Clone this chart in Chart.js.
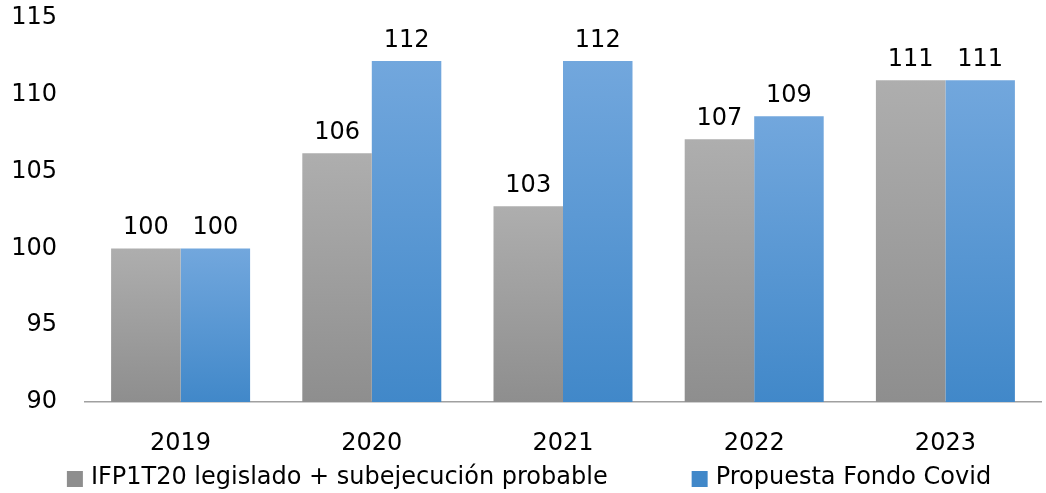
<!DOCTYPE html>
<html>
<head>
<meta charset="utf-8">
<script src="https://cdn.jsdelivr.net/npm/chart.js@4"></script>
<style>
  html, body { margin: 0; padding: 0; background: #fff; }
  #wrap { width: 1046px; height: 493px; }
</style>
</head>
<body>
<div id="wrap"><canvas id="chart"></canvas></div>
<script>
const years       = ['2019', '2020', '2021', '2022', '2023'];
const ifpValues   = [100, 106.2, 102.75, 107.1, 110.95];
const fondoValues = [100, 112.2, 112.2, 108.6, 110.95];
const yTicks      = [90, 95, 100, 105, 110, 115];
const seriesColors = [['#aeaeae', '#8e8e8e'], ['#72a7dd', '#4188c9']];

const FONT = "'DejaVu Sans', sans-serif";

// each bar fades from its own top down to the axis
function barFill(c) {
  const chart = c.chart, area = chart.chartArea;
  const cols = seriesColors[c.datasetIndex];
  if (!area || c.raw === undefined) return cols[0];
  const top = chart.scales.y.getPixelForValue(c.raw);
  const g = chart.ctx.createLinearGradient(0, top, 0, area.bottom);
  g.addColorStop(0, cols[0]);
  g.addColorStop(1, cols[1]);
  return g;
}

const valueLabels = {
  id: 'valueLabels',
  afterDatasetsDraw(chart) {
    const ctx = chart.ctx;
    ctx.save();
    ctx.font = `24px ${FONT}`;
    ctx.fillStyle = '#000';
    ctx.textAlign = 'center';
    ctx.textBaseline = 'alphabetic';
    chart.data.datasets.forEach((ds, i) => {
      chart.getDatasetMeta(i).data.forEach((bar, j) => {
        ctx.fillText(Math.round(ds.data[j]), bar.x, bar.y - 14);
      });
    });
    ctx.restore();
  }
};

// legend drawn by hand so the gap between the two entries can be wide
const bottomLegend = {
  id: 'bottomLegend',
  afterDraw(chart) {
    const ctx = chart.ctx;
    const gap = 84, boxW = 16, boxH = 16, textGap = 8;
    ctx.save();
    ctx.font = `24px ${FONT}`;
    ctx.textBaseline = 'middle';
    ctx.textAlign = 'left';
    const items = chart.data.datasets.map((ds, i) => ({
      text: ds.label,
      color: seriesColors[i][1],
      w: boxW + textGap + ctx.measureText(ds.label).width
    }));
    const total = items.reduce((s, it) => s + it.w, 0) + gap * (items.length - 1);
    let x = (chart.width - total) / 2 + 6;
    const y = 478;
    items.forEach(it => {
      ctx.fillStyle = it.color;
      ctx.fillRect(x, y - boxH / 2 + 1, boxW, boxH);
      ctx.fillStyle = '#000';
      ctx.fillText(it.text, x + boxW + textGap, y);
      x += it.w + gap;
    });
    ctx.restore();
  }
};

const chart = new Chart(document.getElementById('chart'), {
  type: 'bar',
  data: {
    labels: years,
    datasets: [{
      label: 'IFP1T20 legislado + subejecución probable',
      data: ifpValues,
      backgroundColor: barFill
    }, {
      label: 'Propuesta Fondo Covid',
      data: fondoValues,
      backgroundColor: barFill
    }]
  },
  options: {
    responsive: true,
    maintainAspectRatio: false,
    animation: false,
    layout: { padding: { top: 3, right: 5, left: 10, bottom: 39 } },
    datasets: { bar: { categoryPercentage: 0.727, barPercentage: 1 } },
    scales: {
      x: {
        grid: { display: false, drawTicks: false },
        border: { color: '#a0a0a0', width: 1.5 },
        ticks: { color: '#000', font: { family: FONT, size: 24 }, padding: 27 },
        afterFit: axis => { axis.height = 52; }
      },
      y: {
        min: 90,
        max: 115,
        afterBuildTicks: axis => { axis.ticks = yTicks.map(v => ({ value: v })); },
        afterFit: axis => {
          axis.width = 75;
          axis.paddingTop = 18;
          axis.paddingBottom = 14;
        },
        grid: { display: false, drawTicks: false },
        border: { display: false },
        ticks: { color: '#000', font: { family: FONT, size: 24 }, padding: 28 }
      }
    },
    plugins: {
      legend: { display: false },
      tooltip: { enabled: false }
    }
  },
  plugins: [valueLabels, bottomLegend]
});
</script>
</body>
</html>
